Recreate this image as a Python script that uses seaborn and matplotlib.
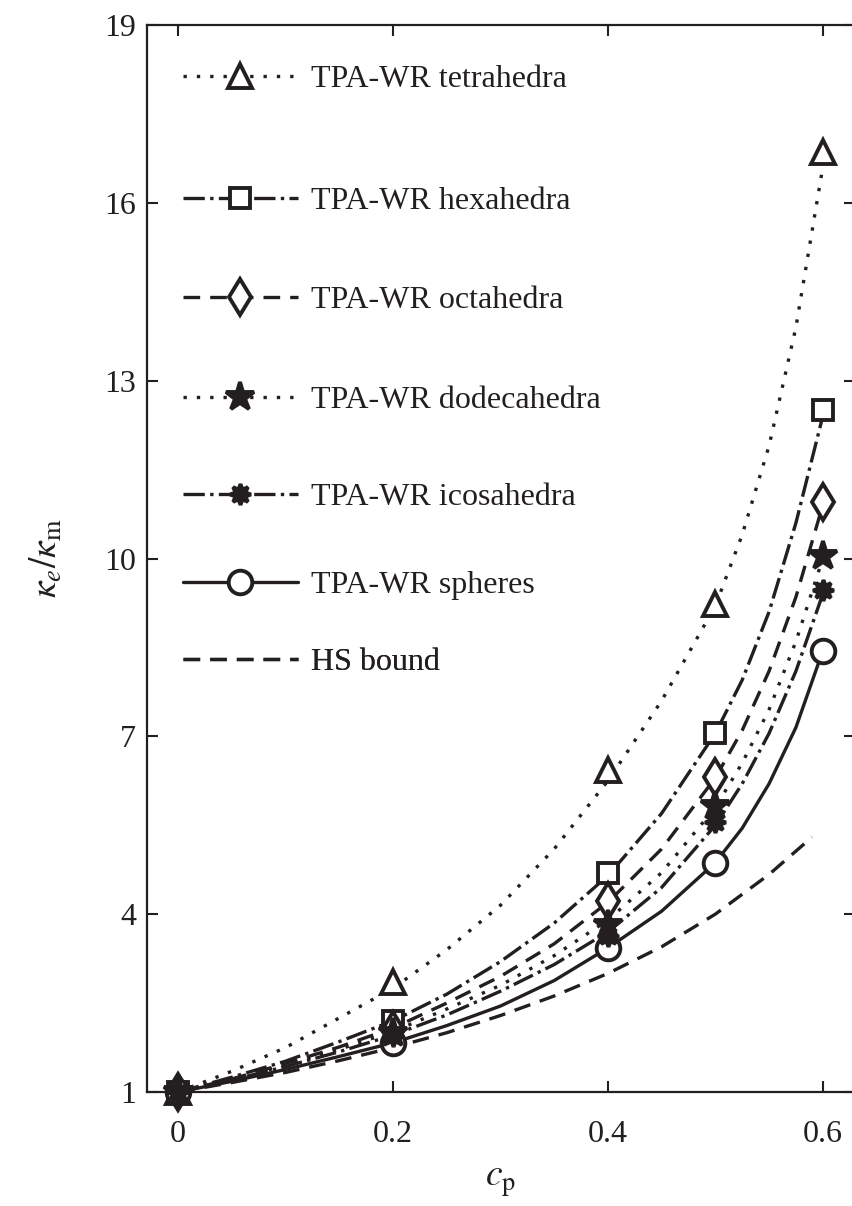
import numpy as np
import pandas as pd
import matplotlib
matplotlib.use("Agg")
import matplotlib.pyplot as plt
from matplotlib.lines import Line2D
import seaborn as sns

# marker positions (volume fraction c_p)
cp_pts = [0.0, 0.2, 0.4, 0.5, 0.6]
tetra_pts = [1.0, 2.85, 6.43, 9.23, 16.85]
hexa_pts = [1.0, 2.2, 4.69, 7.05, 12.5]
octa_pts = [1.0, 2.05, 4.22, 6.31, 10.95]
dodeca_pts = [1.0, 2.0, 3.82, 5.82, 10.05]
icosa_pts = [1.0, 1.95, 3.63, 5.55, 9.47]
sphere_pts = [1.0, 1.82, 3.43, 4.87, 8.44]

# curves
cp_curve = [0.0, 0.05, 0.1, 0.15, 0.2, 0.25, 0.3, 0.35, 0.4, 0.45, 0.5, 0.525, 0.55, 0.575, 0.6]
tetra_curve = [1.0, 1.35, 1.75, 2.25, 2.75, 3.4, 4.15, 5.1, 6.25, 7.6, 9.2, 10.4, 11.9, 13.9, 16.6]
hexa_curve = [1.0, 1.25, 1.52, 1.85, 2.2, 2.65, 3.2, 3.85, 4.65, 5.7, 7.05, 7.95, 9.1, 10.6, 12.4]
octa_curve = [1.0, 1.22, 1.48, 1.76, 2.08, 2.5, 2.95, 3.5, 4.2, 5.1, 6.3, 7.1, 8.1, 9.35, 10.9]
dodeca_curve = [1.0, 1.21, 1.45, 1.72, 2.02, 2.4, 2.8, 3.3, 3.9, 4.7, 5.8, 6.55, 7.45, 8.6, 10.0]
icosa_curve = [1.0, 1.2, 1.43, 1.68, 1.96, 2.3, 2.7, 3.15, 3.7, 4.45, 5.5, 6.2, 7.05, 8.1, 9.4]
sphere_curve = [1.0, 1.18, 1.38, 1.6, 1.83, 2.12, 2.45, 2.88, 3.43, 4.05, 4.87, 5.45, 6.2, 7.15, 8.44]
cp_hs = [0.0, 0.05, 0.1, 0.15, 0.2, 0.25, 0.3, 0.35, 0.4, 0.45, 0.5, 0.55, 0.59]
hs_curve = [1.0, 1.16, 1.33, 1.53, 1.75, 2.0, 2.29, 2.62, 3.0, 3.45, 4.0, 4.67, 5.3]

labels = ['TPA-WR tetrahedra', 'TPA-WR hexahedra', 'TPA-WR octahedra',
          'TPA-WR dodecahedra', 'TPA-WR icosahedra', 'TPA-WR spheres', 'HS bound']

sns.set_style('ticks')
plt.rcParams['font.family'] = ['Liberation Serif', 'DejaVu Serif']
plt.rcParams['mathtext.fontset'] = 'stix'

ink = '#231f20'
lw = 2.4
dotted = (0, (1, 3))
series = [
    # curve, points, linestyle, marker, size, filled
    (tetra_curve, tetra_pts, dotted, '^', 17, False),
    (hexa_curve, hexa_pts, '-.', 's', 14, False),
    (octa_curve, octa_pts, (0, (5, 3)), 'd', 18, False),
    (dodeca_curve, dodeca_pts, dotted, '*', 21, True),
    (icosa_curve, icosa_pts, '-.', (8, 1, 0), 15, True),
    (sphere_curve, sphere_pts, '-', 'o', 17, False),
]

fig = plt.figure(figsize=(8.53, 12.06), dpi=100)
ax = fig.add_axes([147 / 853, 114 / 1206, 708 / 853, 1067 / 1206])

handles = []
for curve, pts, ls, mk, ms, filled in series:
    sns.lineplot(x=cp_curve, y=curve, ax=ax, color=ink, linestyle=ls, lw=lw)
    face = ink if filled else 'white'
    sns.lineplot(x=cp_pts, y=pts, ax=ax, color=ink, linestyle='none', marker=mk,
                 markersize=ms, markerfacecolor=face, markeredgecolor=ink,
                 markeredgewidth=2.8, zorder=4 if filled else 3, clip_on=False)
    handles.append(Line2D([], [], color=ink, linestyle=ls, lw=lw, marker=mk,
                          markersize=ms, markerfacecolor=face,
                          markeredgecolor=ink, markeredgewidth=2.8))
sns.lineplot(x=cp_hs, y=hs_curve, ax=ax, color=ink, linestyle=(0, (5, 3)), lw=lw)
handles.append(Line2D([], [], color=ink, linestyle=(0, (5, 3)), lw=lw))

ax.set_xlim(-0.029, 0.63)
ax.set_ylim(1, 19)
ax.set_xticks([0, 0.2, 0.4, 0.6])
ax.set_xticklabels(['0', '0.2', '0.4', '0.6'])
ax.set_yticks([1, 4, 7, 10, 13, 16, 19])
ax.tick_params(direction='in', length=8, width=1.5, labelsize=23, colors=ink,
               top=True, right=True)
ax.tick_params(axis='x', pad=20)
ax.tick_params(axis='y', pad=8)
for sp in ax.spines.values():
    sp.set_visible(True)
    sp.set_linewidth(1.6)
    sp.set_color(ink)

ax.set_xlabel(r'$c_{\rm p}$', fontsize=27, color=ink, labelpad=11)
ax.set_ylabel(r'$\kappa_e/\kappa_{\rm m}$', fontsize=27, color=ink, labelpad=28)

# one legend row per entry, at the heights used in the original
label_y = [79, 201, 300, 400, 497, 585, 662]
for h, lab, yp in zip(handles, labels, label_y):
    leg = ax.legend([h], [lab], loc='center left',
                    bbox_to_anchor=(36 / 708, (1092 - yp) / 1067),
                    frameon=False, fontsize=23, handlelength=3.6,
                    handletextpad=0.4, borderpad=0, borderaxespad=0,
                    numpoints=1, labelcolor=ink)
    ax.add_artist(leg)

fig.savefig('out.png', dpi=100)
